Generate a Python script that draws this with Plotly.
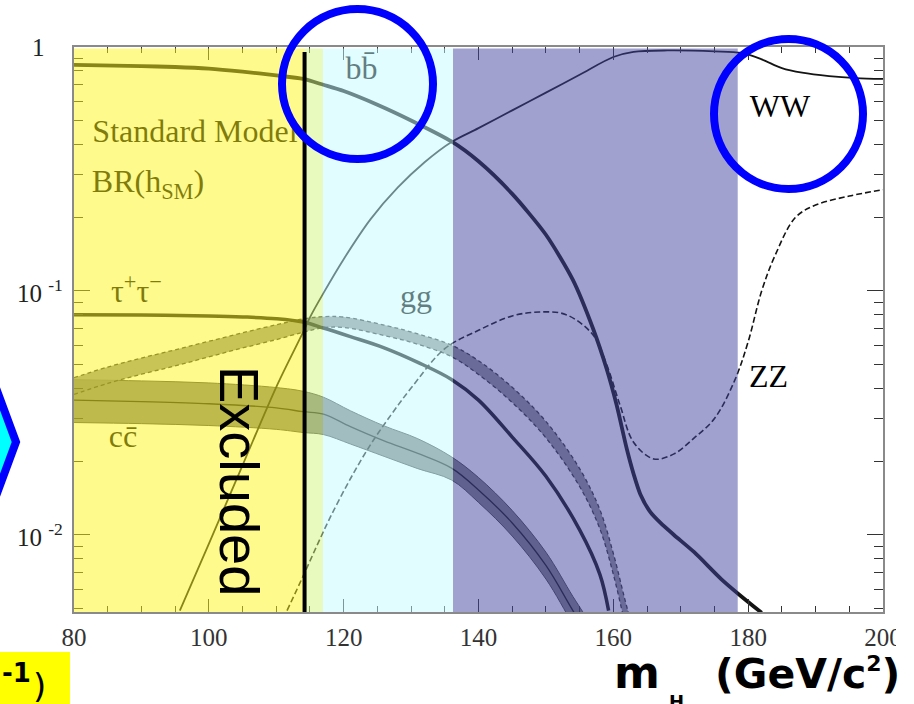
import plotly.graph_objects as go
import math

# ---------------- data ----------------
bb_m = [80, 90, 95, 100, 105, 110, 114, 117, 120, 125, 130, 136, 140, 145, 150, 154, 157, 159, 160.5, 162, 163, 164,
        165.5, 167, 169, 172, 176, 179, 182]
bb_br = [0.845, 0.835, 0.828, 0.815, 0.792, 0.765, 0.740, 0.700, 0.660, 0.580, 0.500, 0.410, 0.340, 0.250, 0.170,
         0.111, 0.070, 0.048, 0.034, 0.0225, 0.0178, 0.0147, 0.0124, 0.0112, 0.0100, 0.0085, 0.0066, 0.0056, 0.0048]

ww_m = [95.7, 100, 105, 110, 114, 115, 117, 120, 124, 128, 132, 136, 140, 145, 150, 155, 160, 163, 168, 175, 179, 182, 185, 188, 192, 196, 200]
ww_br = [0.0049, 0.0092, 0.0193, 0.0404, 0.068, 0.078, 0.098, 0.135, 0.197, 0.265, 0.337, 0.408, 0.465, 0.550,
         0.650, 0.770, 0.910, 0.955, 0.968, 0.960, 0.945, 0.890, 0.820, 0.785, 0.760, 0.746, 0.740]

zz_m = [111.6, 114, 116, 118, 121, 124, 127, 130, 135, 140, 145, 149, 153, 157, 159, 161, 163, 166, 169, 172, 175,
        178, 180, 182, 184, 187, 190, 195, 200]
zz_br = [0.0049, 0.0068, 0.0090, 0.0118, 0.0170, 0.0235, 0.031, 0.040, 0.058, 0.069, 0.079, 0.082, 0.080, 0.066,
         0.050, 0.034, 0.024, 0.0205, 0.0215, 0.025, 0.030, 0.043, 0.062, 0.100, 0.140, 0.200, 0.225, 0.245, 0.260]

tt_m = [80, 90, 100, 105, 110, 114, 117, 121, 126, 131, 136, 140, 145, 150, 155, 158, 159.3]
tt_br = [0.0800, 0.0797, 0.0790, 0.0783, 0.0770, 0.0746, 0.0705, 0.0650, 0.0585, 0.0510, 0.0434, 0.0357, 0.0252,
         0.0174, 0.0105, 0.0069, 0.0049]

gg_m = [80, 85, 90, 95, 100, 105, 110, 114, 117, 120, 126, 131, 136, 140, 145, 150, 155, 158, 160, 161.6, 162.5]
gg_hi = [0.0441, 0.0488, 0.0531, 0.0574, 0.0622, 0.0674, 0.0727, 0.0768, 0.0785, 0.0782, 0.0725, 0.0667, 0.0600,
         0.0518, 0.0403, 0.0292, 0.0187, 0.0127, 0.0084, 0.0056, 0.0045]
gg_lo = [0.0377, 0.0418, 0.0456, 0.0493, 0.0537, 0.0584, 0.0632, 0.0678, 0.0707, 0.0709, 0.0657, 0.0605, 0.0538,
         0.0455, 0.0349, 0.0250, 0.0158, 0.0106, 0.0069, 0.0045, 0.0036]

cc_m = [80, 90, 100, 110, 114, 117, 121, 126, 131, 136, 140, 145, 150, 154, 156]
cc_mid = [0.0357, 0.0352, 0.0345, 0.0332, 0.0320, 0.0313, 0.0278, 0.0243, 0.0216, 0.0188, 0.0153, 0.0112, 0.0075,
          0.0049, 0.0040]
cc_hi = [0.0433, 0.0428, 0.0420, 0.0402, 0.0388, 0.0367, 0.0323, 0.0280, 0.0248, 0.0209, 0.0172, 0.0126, 0.0085,
         0.0056, 0.0046]
cc_lo = [0.0289, 0.0286, 0.0281, 0.0271, 0.0263, 0.0258, 0.0236, 0.0210, 0.0187, 0.0168, 0.0136, 0.0099, 0.0066,
         0.0043, 0.0035]

# channel labels
label_text = ["Standard Model", "BR(h<sub>SM</sub>)", "τ<sup>+</sup>τ<sup>−</sup>", "cc\u0304", "bb\u0304", "gg", "WW", "ZZ"]
label_m = [97.95, 90.98, 89.27, 87.27, 122.65, 130.73, 184.72, 183.02]
label_br = [0.44, 0.2745, 0.0972, 0.02473, 0.797, 0.0927, 0.557, 0.04358]

# mass regions (GeV): excluded / marginal / light / heavy
region_edges = [80, 114.2, 116.93, 136.22, 178.45]
lep_limit = 114.2

x_tick_vals = [80, 100, 120, 140, 160, 180, 200]
x_tick_text = ["80", "100", "120", "140", "160", "180", "200"]
y_tick_vals = [1, 0.1, 0.01]
y_tick_text = ["1", "10 <sup>-1</sup>", "10 <sup>-2</sup>"]
y_minor_vals = [0.005, 0.006, 0.007, 0.008, 0.009, 0.02, 0.03, 0.04, 0.05, 0.06, 0.07, 0.08, 0.09,
                0.2, 0.3, 0.4, 0.5, 0.6, 0.7, 0.8, 0.9]

# ---------------- layout geometry ----------------
W, H = 914, 704
L, R, T, B = 74, 31, 47, 92
PW, PH = W - L - R, H - T - B


def px(x):
    return (x - L) / PW


def py(y):
    return (T + PH - y) / PH


fig = go.Figure()
common = dict(mode="lines", showlegend=False, hoverinfo="skip")
dark = "#141414"


def spl(color, width, dash="solid", smoothing=1.0):
    return dict(color=color, width=width, dash=dash, shape="spline", smoothing=smoothing)


# cc band
fig.add_trace(go.Scatter(x=cc_m, y=cc_hi, line=spl("#444", 1), **common))
fig.add_trace(go.Scatter(x=cc_m, y=cc_lo, fill="tonexty", fillcolor="rgba(105,105,105,0.85)",
                         line=spl("#444", 1), **common))
fig.add_trace(go.Scatter(x=cc_m, y=cc_mid, line=spl(dark, 1.3), **common))

# gg band (dashed edges)
fig.add_trace(go.Scatter(x=gg_m, y=gg_hi, line=spl("#333", 1.3, "4px,3px"), **common))
fig.add_trace(go.Scatter(x=gg_m, y=gg_lo, fill="tonexty", fillcolor="rgba(120,120,120,0.8)",
                         line=spl("#333", 1.3, "4px,3px"), **common))

# tau tau
fig.add_trace(go.Scatter(x=tt_m, y=tt_br, line=spl(dark, 3.5), **common))
# ZZ
fig.add_trace(go.Scatter(x=zz_m, y=zz_br, line=spl(dark, 1.6, "6px,3px"), **common))
# WW
fig.add_trace(go.Scatter(x=ww_m, y=ww_br, line=spl(dark, 1.8, smoothing=0.9), **common))
# bb
fig.add_trace(go.Scatter(x=bb_m, y=bb_br, line=spl(dark, 3.8, smoothing=0.7), **common))

# channel labels as text marks (tinted by the shaded regions like the curves)
fig.add_trace(go.Scatter(x=label_m, y=label_br, mode="text", text=label_text, textposition="middle center",
                         textfont=dict(family="Liberation Serif", size=32, color="black"),
                         showlegend=False, hoverinfo="skip"))

shapes = []
region_colors = ["rgba(255,245,25,0.5)", "rgba(209,245,125,0.5)", "rgba(195,251,255,0.5)", "rgba(67,67,161,0.5)"]
for i, c in enumerate(region_colors):
    shapes.append(dict(type="rect", xref="x", yref="paper", x0=region_edges[i], x1=region_edges[i + 1],
                       y0=0, y1=py(48.5), fillcolor=c, line=dict(width=0), layer="above"))
# LEP limit line
shapes.append(dict(type="line", xref="x", yref="paper", x0=lep_limit, x1=lep_limit, y0=0, y1=py(52),
                   line=dict(color="black", width=4), layer="above"))
# blue circles
shapes.append(dict(type="circle", xref="paper", yref="paper", x0=px(282), x1=px(433), y0=py(159), y1=py(9),
                   line=dict(color="#0000ff", width=8), layer="above"))
shapes.append(dict(type="circle", xref="paper", yref="paper", x0=px(714), x1=px(863), y0=py(189), y1=py(39),
                   line=dict(color="#0000ff", width=8), layer="above"))
# partial hexagon at left edge
shapes.append(dict(type="path", xref="paper", yref="paper",
                   path=f"M {px(-40)},{py(291)} L {px(16)},{py(442)} L {px(-40)},{py(593)} Z",
                   fillcolor="#00ffff", line=dict(color="#0000ff", width=8), layer="above"))
# yellow label box bottom-left
shapes.append(dict(type="rect", xref="paper", yref="paper", x0=px(-5), x1=px(70), y0=py(710), y1=py(652),
                   fillcolor="#ffff00", line=dict(width=0), layer="above"))
# crop of the last tick label
shapes.append(dict(type="rect", xref="paper", yref="paper", x0=px(896), x1=px(925), y0=py(652), y1=py(615),
                   fillcolor="white", line=dict(width=0), layer="above"))

annotations = []
# y tick labels
y_lab_right = [47, 65, 65]
for v, t, xr in zip(y_tick_vals, y_tick_text, y_lab_right):
    annotations.append(dict(x=px(xr), y=math.log10(v), xref="paper", yref="y", text=t, showarrow=False,
                            xanchor="right", yanchor="middle",
                            font=dict(family="Liberation Serif", size=25, color="#222")))
annotations.append(dict(x=px(240), y=py(481), xref="paper", yref="paper", text="Excluded", textangle=90,
                        xanchor="center", yanchor="middle",
                        showarrow=False, font=dict(family="Liberation Sans", size=56, color="black")))
annotations.append(dict(x=px(637), y=py(672.6), xref="paper", yref="paper", text="<b>m</b>", showarrow=False,
                        xanchor="center", yanchor="middle", font=dict(family="DejaVu Sans", size=44, color="black")))
annotations.append(dict(x=px(676), y=py(701), xref="paper", yref="paper", text="<b>H</b>", showarrow=False,
                        xanchor="center", yanchor="middle", font=dict(family="DejaVu Sans", size=18, color="black")))
annotations.append(dict(x=px(902), y=py(673.6), xref="paper", yref="paper",
                        text="<b>(GeV/c<sup><span style='font-size:22px'>2</span></sup>)</b>",
                        showarrow=False, xanchor="right", yanchor="middle",
                        font=dict(family="DejaVu Sans", size=41, color="black")))
annotations.append(dict(x=px(16), y=py(673), xref="paper", yref="paper", text="<b>-1</b>", showarrow=False,
                        xanchor="center", yanchor="middle", font=dict(family="DejaVu Sans", size=26, color="black")))
annotations.append(dict(x=px(39), y=py(686), xref="paper", yref="paper", text=")", showarrow=False,
                        xanchor="center", yanchor="middle", font=dict(family="DejaVu Sans", size=34, color="black")))

fig.update_layout(width=W, height=H, autosize=False, margin=dict(l=L, r=R, t=T, b=B, pad=0),
                  paper_bgcolor="white", plot_bgcolor="white", showlegend=False,
                  shapes=shapes, annotations=annotations)

fig.update_xaxes(range=[80, 200], tickmode="array", tickvals=x_tick_vals, ticktext=x_tick_text,
                 ticks="inside", ticklen=13, tickwidth=1.4, tickcolor="#333",
                 showline=True, linecolor="#8a8a8a", linewidth=2, mirror="ticks",
                 showgrid=False, zeroline=False, ticklabelstandoff=2,
                 tickfont=dict(family="Liberation Serif", size=25, color="#333"),
                 minor=dict(ticks="inside", ticklen=6, dtick=5, tick0=80, tickcolor="#333", tickwidth=1.2,
                            showgrid=False))
fig.update_yaxes(type="log", range=[math.log10(y_minor_vals[0]) - 0.0146, 0], tickmode="array",
                 tickvals=y_tick_vals, showticklabels=False,
                 ticks="inside", ticklen=16, tickwidth=1.4, tickcolor="#333",
                 showline=True, linecolor="#8a8a8a", linewidth=2, mirror="ticks",
                 showgrid=False, zeroline=False,
                 minor=dict(ticks="inside", ticklen=9, tickmode="array", tickvals=y_minor_vals,
                            tickcolor="#333", tickwidth=1.2, showgrid=False))

fig.write_html("out.html")
